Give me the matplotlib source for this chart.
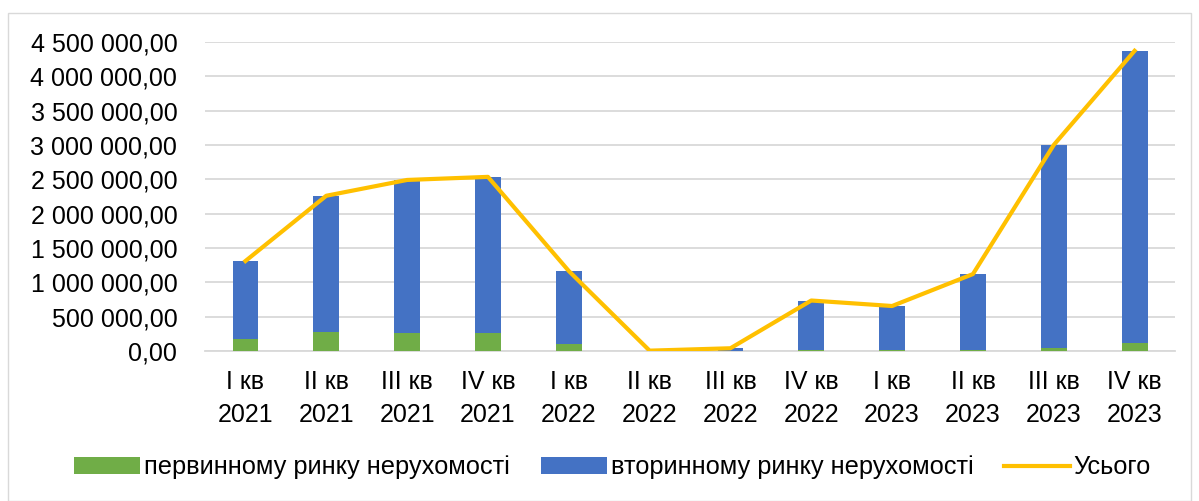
import matplotlib.pyplot as plt
from matplotlib.ticker import FuncFormatter
from matplotlib.patches import Rectangle

plt.rcParams['font.family'] = ['Liberation Sans', 'DejaVu Sans']

# Data
quarters = ['I кв\n2021', 'II кв\n2021', 'III кв\n2021', 'IV кв\n2021',
            'I кв\n2022', 'II кв\n2022', 'III кв\n2022', 'IV кв\n2022',
            'I кв\n2023', 'II кв\n2023', 'III кв\n2023', 'IV кв\n2023']
primary = [175000, 275000, 260000, 260000, 100000, 2000, 3000, 10000,
           8000, 15000, 50000, 120000]
secondary = [1135000, 1985000, 2230000, 2275000, 1065000, 3000, 37000, 725000,
             647000, 1105000, 2950000, 4250000]
total = [p + s for p, s in zip(primary, secondary)]

c_green = '#70AD47'
c_blue = '#4472C4'
c_gold = '#FFC000'

fig = plt.figure(figsize=(11.99, 5.01), dpi=100)
ax = fig.add_axes([0.171, 0.2994, 0.809, 0.617])

x = range(len(quarters))
b1 = ax.bar(x, primary, width=0.32, color=c_green, zorder=3)
b2 = ax.bar(x, secondary, width=0.32, bottom=primary, color=c_blue, zorder=3)
ln, = ax.plot(x, total, color=c_gold, linewidth=3, zorder=4)

ax.set_xlim(-0.5, len(quarters) - 0.5)
ax.set_ylim(0, 4500000)
ax.set_yticks(range(0, 4500001, 500000))


def fmt(v, pos):
    return '{:,.2f}'.format(v).replace(',', ' ').replace('.', ',')


ax.yaxis.set_major_formatter(FuncFormatter(fmt))
ax.set_xticks(list(x))
ax.set_xticklabels(quarters, fontsize=18, linespacing=1.45)
ax.tick_params(axis='y', labelsize=18, length=0, pad=20)
ax.tick_params(axis='x', length=0, pad=14)

ax.grid(axis='y', color='#D9D9D9', linewidth=1.3, zorder=0)
for s in ['top', 'right', 'left']:
    ax.spines[s].set_visible(False)
ax.spines['bottom'].set_color('#D9D9D9')
ax.spines['bottom'].set_linewidth(1.3)

fig.legend([b1, b2, ln],
           ['первинному ринку нерухомості', 'вторинному ринку нерухомості', 'Усього'],
           loc='center', bbox_to_anchor=(0.511, 0.067), ncol=3, frameon=False,
           fontsize=18.3, handlelength=2.6, handleheight=0.6, handletextpad=0.15,
           columnspacing=1.2)

# outer chart border
fig.patches.append(Rectangle((0.007, 0.0), 0.986, 0.975, transform=fig.transFigure,
                             fill=False, edgecolor='#D9D9D9', linewidth=1))

fig.savefig('out.png', dpi=100)
